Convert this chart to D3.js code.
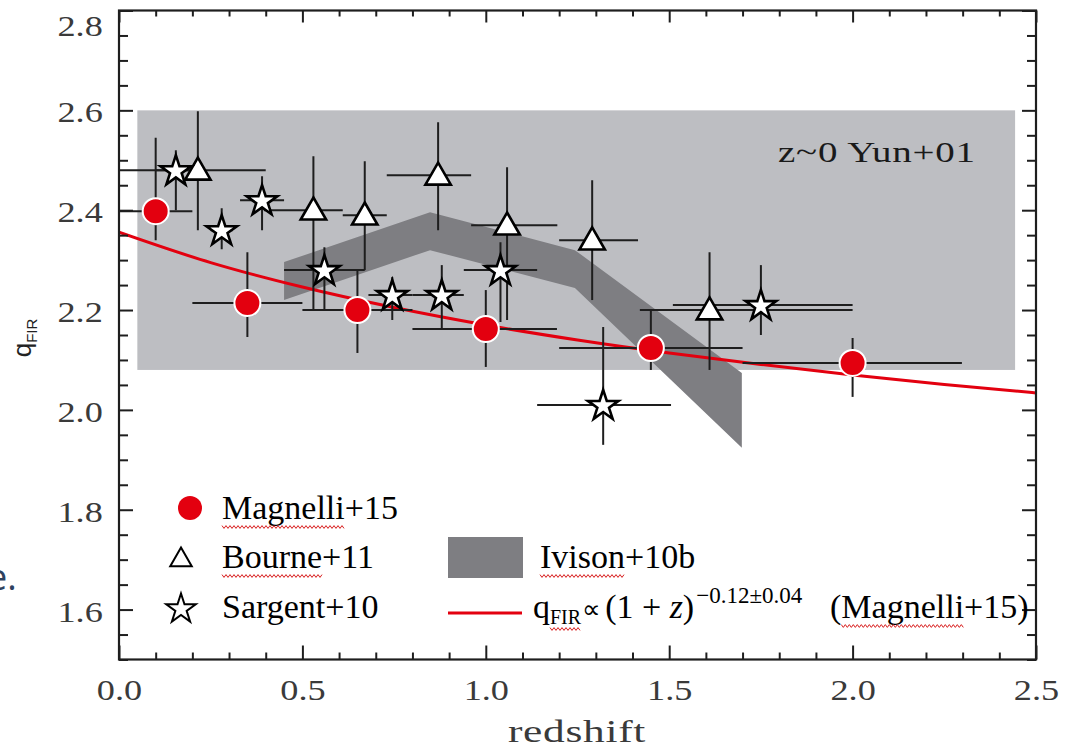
<!DOCTYPE html>
<html>
<head>
<meta charset="utf-8">
<script src="https://cdn.jsdelivr.net/npm/d3@7"></script>
<style>
  html, body { margin: 0; padding: 0; background: #fff; }
  svg { display: block; }
</style>
</head>
<body>
<svg id="chart" width="1071" height="749"></svg>
<script>
// ---------------- DATA ----------------
// Magnelli+15 (red circles)
const magZ    = [0.10, 0.35, 0.65, 1.00, 1.45, 2.00];
const magQ    = [2.398, 2.214, 2.200, 2.162, 2.124, 2.094];
const magZlo  = [0.00, 0.20, 0.50, 0.80, 1.20, 1.70];
const magZhi  = [0.20, 0.50, 0.80, 1.194, 1.70, 2.298];
const magQlo  = [2.340, 2.146, 2.114, 2.086, 2.080, 2.026];
const magQhi  = [2.545, 2.316, 2.280, 2.240, 2.200, 2.144];

// Bourne+11 (open triangles)
const bouZ    = [0.215, 0.53, 0.67, 0.87, 1.058, 1.29, 1.61];
const bouQ    = [2.480, 2.400, 2.390, 2.470, 2.370, 2.340, 2.200];
const bouZlo  = [0.00, 0.395, 0.61, 0.73, 0.96, 1.20, 1.42];
const bouZhi  = [0.40, 0.61, 0.73, 0.96, 1.195, 1.415, 2.00];
const bouQlo  = [2.360, 2.200, 2.280, 2.360, 2.180, 2.220, 2.080];
const bouQhi  = [2.598, 2.508, 2.498, 2.576, 2.486, 2.460, 2.316];

// Sargent+10 (open stars)
const sarZ    = [0.155, 0.28, 0.39, 0.56, 0.745, 0.88, 1.04, 1.32, 1.75];
const sarQ    = [2.480, 2.360, 2.420, 2.280, 2.230, 2.230, 2.280, 2.010, 2.210];
const sarZlo  = [0.10, 0.25, 0.33, 0.45, 0.68, 0.80, 0.94, 1.14, 1.51];
const sarZhi  = [0.20, 0.31, 0.45, 0.67, 0.80, 0.94, 1.14, 1.505, 2.00];
const sarQlo  = [2.400, 2.322, 2.360, 2.200, 2.180, 2.160, 2.176, 1.930, 2.150];
const sarQhi  = [2.520, 2.404, 2.468, 2.326, 2.266, 2.290, 2.336, 2.166, 2.290];

// Ivison+10b band
const ivZ     = [0.45, 0.848, 1.243, 1.698];
const ivHi    = [2.296, 2.396, 2.320, 2.074];
const ivLo    = [2.220, 2.320, 2.244, 1.924];

// z~0 Yun+01 band
const yunZ    = [0.05, 2.443];
const yunQ    = [2.08, 2.60];

// Fit curve q ∝ (1+z)^-0.12
const fitZ    = [0, 0.25, 0.5, 0.75, 1.0, 1.25, 1.5, 1.75, 2.0, 2.25, 2.5];
const fitQ    = [2.356, 2.295, 2.246, 2.205, 2.170, 2.140, 2.114, 2.091, 2.070, 2.051, 2.034];

// Ticks
const xTicks  = [0.0, 0.5, 1.0, 1.5, 2.0, 2.5];
const yTicks  = [1.6, 1.8, 2.0, 2.2, 2.4, 2.6, 2.8];

// ---------------- SETUP ----------------
const svg = d3.select("#chart");
const L = 119, R = 1036, T = 10.5, B = 659.5;
const x = d3.scaleLinear().domain([0, 2.5]).range([L, R]);
const y = d3.scaleLinear().domain([1.5, 2.8]).range([B, T]);

const RED = "#e3000f";
const INK = "#1e1e1e";
const SERIF = "'Liberation Serif', 'Times New Roman', serif";

svg.append("rect").attr("width", 1071).attr("height", 749).attr("fill", "#fff");

svg.append("defs").append("clipPath").attr("id", "plotclip")
  .append("rect").attr("x", L).attr("y", T).attr("width", R - L).attr("height", B - T);

const plot = svg.append("g").attr("clip-path", "url(#plotclip)");

// Yun band
plot.append("rect")
  .attr("x", x(yunZ[0])).attr("y", y(yunQ[1]))
  .attr("width", x(yunZ[1]) - x(yunZ[0]))
  .attr("height", y(yunQ[0]) - y(yunQ[1]))
  .attr("fill", "#bdbec2");

// Ivison band
const ivData = ivZ.map((z, i) => ({z, lo: ivLo[i], hi: ivHi[i]}));
plot.append("path")
  .datum(ivData)
  .attr("d", d3.area().x(d => x(d.z)).y0(d => y(d.lo)).y1(d => y(d.hi)))
  .attr("fill", "#7e7e82");

// Fit line
plot.append("path")
  .datum(fitZ.map((z, i) => [z, fitQ[i]]))
  .attr("d", d3.line().x(d => x(d[0])).y(d => y(d[1])).curve(d3.curveMonotoneX))
  .attr("fill", "none").attr("stroke", RED).attr("stroke-width", 3);

// Error bars
function errorBars(Z, Q, Zlo, Zhi, Qlo, Qhi) {
  const g = plot.append("g").attr("stroke", INK).attr("stroke-width", 2);
  Z.forEach((z, i) => {
    g.append("line").attr("x1", x(Zlo[i])).attr("x2", x(Zhi[i]))
      .attr("y1", y(Q[i])).attr("y2", y(Q[i]));
    g.append("line").attr("x1", x(z)).attr("x2", x(z))
      .attr("y1", y(Qlo[i])).attr("y2", y(Qhi[i]));
  });
}
errorBars(bouZ, bouQ, bouZlo, bouZhi, bouQlo, bouQhi);
errorBars(sarZ, sarQ, sarZlo, sarZhi, sarQlo, sarQhi);
errorBars(magZ, magQ, magZlo, magZhi, magQlo, magQhi);

// Markers
const triPath = d3.symbol(d3.symbolTriangle).size(280)();
const starPath = d3.symbol(d3.symbolStar).size(290)();

plot.append("g").selectAll("path").data(bouZ.map((z, i) => [z, bouQ[i]])).join("path")
  .attr("d", triPath)
  .attr("transform", d => `translate(${x(d[0])},${y(d[1]) + 2})`)
  .attr("fill", "#fff").attr("stroke", "#000").attr("stroke-width", 2.6)
  .attr("stroke-linejoin", "miter");

plot.append("g").selectAll("path").data(sarZ.map((z, i) => [z, sarQ[i]])).join("path")
  .attr("d", starPath)
  .attr("transform", d => `translate(${x(d[0])},${y(d[1]) + 1})`)
  .attr("fill", "#fff").attr("stroke", "#000").attr("stroke-width", 2.6)
  .attr("stroke-linejoin", "miter");

plot.append("g").selectAll("circle").data(magZ.map((z, i) => [z, magQ[i]])).join("circle")
  .attr("cx", d => x(d[0])).attr("cy", d => y(d[1])).attr("r", 13)
  .attr("fill", RED).attr("stroke", "#fff").attr("stroke-width", 2);

// ---------------- AXES ----------------
const minorX = d3.range(0, 2.5001, 0.1).filter(v => Math.abs(v * 2 - Math.round(v * 2)) > 1e-6);
const minorY = d3.range(1.5, 2.8001, 0.05).filter(v => Math.abs(v * 5 - Math.round(v * 5)) > 1e-6);

function styleAxis(g) {
  g.select(".domain").remove();
  g.selectAll(".tick line").attr("stroke", INK).attr("stroke-width", 2);
  g.selectAll(".tick text")
    .attr("fill", "#3a3a3a")
    .style("font-family", SERIF)
    .style("font-size", "29px");
}

const fmt = d3.format(".1f");
// bottom
const botAx = svg.append("g").attr("transform", `translate(0,${B})`)
  .call(d3.axisBottom(x).tickValues(xTicks).tickSizeInner(-14).tickSizeOuter(0).tickPadding(20).tickFormat(fmt))
  .call(styleAxis);
botAx.selectAll(".tick text").attr("transform", "scale(1.25,1)");
svg.append("g").attr("transform", `translate(0,${B})`)
  .call(d3.axisBottom(x).tickValues(minorX).tickSizeInner(-7).tickSizeOuter(0).tickFormat(""))
  .call(styleAxis);
// top
svg.append("g").attr("transform", `translate(0,${T})`)
  .call(d3.axisTop(x).tickValues(xTicks).tickSizeInner(-12).tickSizeOuter(0).tickFormat(""))
  .call(styleAxis);
svg.append("g").attr("transform", `translate(0,${T})`)
  .call(d3.axisTop(x).tickValues(minorX).tickSizeInner(-6).tickSizeOuter(0).tickFormat(""))
  .call(styleAxis);
// left
const leftAx = svg.append("g").attr("transform", `translate(${L},0)`)
  .call(d3.axisLeft(y).tickValues(yTicks).tickSizeInner(-14).tickSizeOuter(0).tickPadding(13).tickFormat(fmt))
  .call(styleAxis);
leftAx.selectAll(".tick text")
  .attr("dy", d => d === 2.8 ? "0.85em" : "0.4em")
  .attr("transform", "scale(1.25,1)");
svg.append("g").attr("transform", `translate(${L},0)`)
  .call(d3.axisLeft(y).tickValues(minorY).tickSizeInner(-9).tickSizeOuter(0).tickFormat(""))
  .call(styleAxis);
// right
svg.append("g").attr("transform", `translate(${R},0)`)
  .call(d3.axisRight(y).tickValues(yTicks).tickSizeInner(-14).tickSizeOuter(0).tickFormat(""))
  .call(styleAxis);
svg.append("g").attr("transform", `translate(${R},0)`)
  .call(d3.axisRight(y).tickValues(minorY).tickSizeInner(-9).tickSizeOuter(0).tickFormat(""))
  .call(styleAxis);

// frame
svg.append("rect").attr("x", L).attr("y", T).attr("width", R - L).attr("height", B - T)
  .attr("fill", "none").attr("stroke", INK).attr("stroke-width", 2.2);

// axis titles
svg.append("text").attr("transform", "translate(577,742) scale(1.4,1)").attr("text-anchor", "middle")
  .style("font-family", SERIF).style("font-size", "31px").attr("fill", "#3a3a3a")
  .attr("letter-spacing", 0.5)
  .text("redshift");

const yl = svg.append("text").attr("transform", "translate(31,338) rotate(-90)")
  .attr("text-anchor", "middle")
  .style("font-family", "'Liberation Sans', sans-serif").attr("fill", "#222");
yl.append("tspan").style("font-size", "26px").text("q");
yl.append("tspan").style("font-size", "15px").attr("dy", 6).text("FIR");

// annotation
svg.append("text").attr("transform", "translate(778,162) scale(1.3,1)")
  .style("font-family", SERIF).style("font-size", "30px").attr("fill", "#1a1a1a")
  .attr("letter-spacing", 0.6)
  .text("z~0 Yun+01");

// ---------------- LEGEND ----------------
const leg = svg.append("g");

leg.append("circle").attr("cx", 190).attr("cy", 508).attr("r", 12).attr("fill", RED);
leg.append("path").attr("d", d3.symbol(d3.symbolTriangle).size(200)())
  .attr("transform", "translate(181,560)").attr("fill", "#fff").attr("stroke", "#000").attr("stroke-width", 2);
leg.append("path").attr("d", d3.symbol(d3.symbolStar).size(270)())
  .attr("transform", "translate(181,609)").attr("fill", "#fff").attr("stroke", "#000").attr("stroke-width", 2);
leg.append("rect").attr("x", 448).attr("y", 537).attr("width", 75).attr("height", 41).attr("fill", "#7e7e82");
leg.append("line").attr("x1", 448).attr("x2", 522).attr("y1", 613).attr("y2", 613)
  .attr("stroke", RED).attr("stroke-width", 3);

function legText(xp, yp) {
  return leg.append("text").attr("x", xp).attr("y", yp)
    .style("font-family", SERIF).style("font-size", "34px").attr("fill", "#000");
}
const tMag = legText(222, 519); const sMag = tMag.append("tspan").text("Magnelli"); tMag.append("tspan").text("+15");
const tBou = legText(222, 568); const sBou = tBou.append("tspan").text("Bourne"); tBou.append("tspan").text("+11");
legText(222, 618).text("Sargent+10");
const tIvi = legText(540, 568); const sIvi = tIvi.append("tspan").text("Ivison"); tIvi.append("tspan").text("+10b");

const tF = legText(533, 618);
tF.append("tspan").text("q");
const sFIR = tF.append("tspan").style("font-size", "20px").attr("dy", 6).text("FIR");
tF.append("tspan").style("font-size", "26px").attr("dy", -6).attr("dx", 1).text("\u221D");
tF.append("tspan").attr("dx", 4).text("(1 + ");
tF.append("tspan").style("font-style", "italic").text("z");
tF.append("tspan").text(")");
tF.append("tspan").style("font-size", "23px").attr("dy", -15).attr("dx", 2).text("\u22120.12\u00B10.04");
tF.append("tspan").attr("dy", 15).attr("x", 830).text("(");
const sMag2 = tF.append("tspan").text("Magnelli");
tF.append("tspan").text("+15)");

// spell-check squiggles
function squiggle(tspanSel, yp) {
  const n = tspanSel.node();
  const x0 = n.getStartPositionOfChar(0).x;
  const x1 = x0 + n.getComputedTextLength();
  const pts = [];
  let k = 0;
  for (let xx = x0; xx <= x1; xx += 2, k++) pts.push([xx, yp + (k % 2 ? 1.4 : -1.4)]);
  leg.append("path").attr("d", d3.line()(pts)).attr("fill", "none")
    .attr("stroke", "#d81e1e").attr("stroke-width", 1);
}
squiggle(sMag, 527);
squiggle(sBou, 576);
squiggle(sIvi, 576);
squiggle(sFIR, 629);
squiggle(sMag2, 626);

// stray slide text at the left edge
svg.append("text").attr("x", -13).attr("y", 590)
  .style("font-family", "'Open Sans', sans-serif").style("font-size", "36px")
  .attr("fill", "#2e4260").text("e.");
</script>
</body>
</html>
